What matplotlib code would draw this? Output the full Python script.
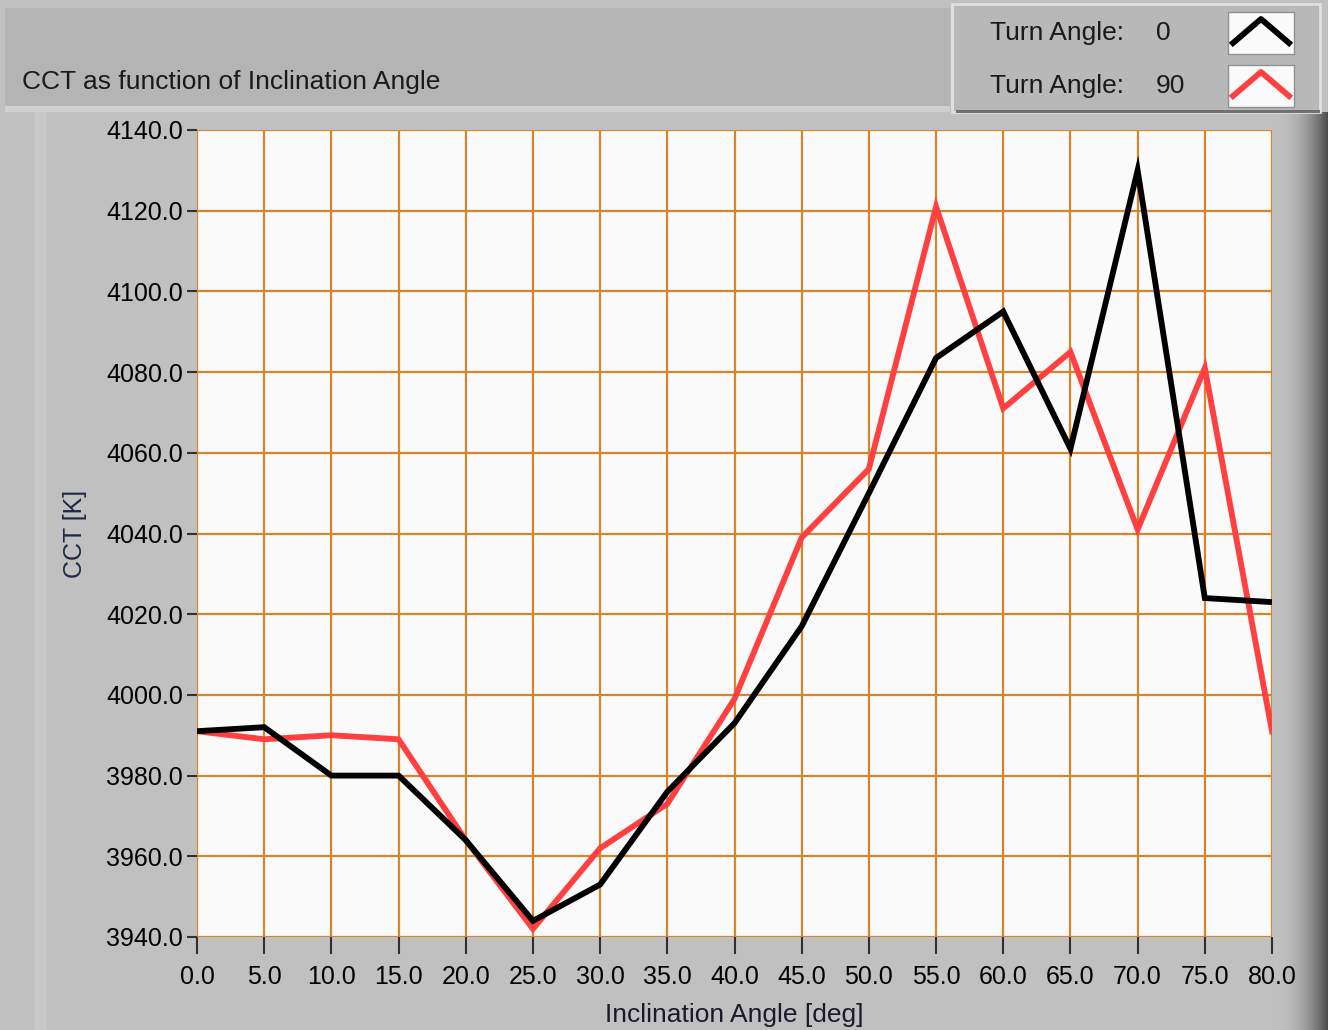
import matplotlib
matplotlib.use("Agg")
import matplotlib.pyplot as plt
from matplotlib.patches import Rectangle
import numpy as np

angles = [0, 5, 10, 15, 20, 25, 30, 35, 40, 45, 50, 55, 60, 65, 70, 75, 80]
cct_turn0 = [3991, 3992, 3980, 3980, 3964, 3944, 3953, 3976, 3993, 4017, 4050, 4083.5, 4095, 4061, 4130, 4024, 4023]
cct_turn90 = [3991, 3989, 3990, 3989, 3964, 3942, 3962, 3973, 3999, 4039, 4056, 4121, 4071, 4085, 4041, 4081, 3991]
series_labels = ["Turn Angle:", "Turn Angle:"]
series_values = ["0", "90"]
xticks = np.arange(0, 81, 5)
yticks = np.arange(3940, 4141, 20)

plt.rcParams['font.family'] = ['Liberation Sans', 'DejaVu Sans']

W, H = 1328, 1030
fig = plt.figure(figsize=(W / 100, H / 100), dpi=100)
fig.patch.set_facecolor('#c0c0c0')

def px(x, y, w, h, **kw):
    r = Rectangle((x / W, 1 - (y + h) / H), w / W, h / H, transform=fig.transFigure, **kw)
    fig.add_artist(r)
    return r

# title bar
px(5, 8, 945, 98, facecolor='#b4b4b4', edgecolor='none', zorder=0)
px(5, 106, 945, 6, facecolor='#d0d0d0', edgecolor='none', zorder=0)
# left lighter strip
px(35, 112, 12, 918, facecolor='#c8c8c8', edgecolor='none', zorder=0)
# right dark gradient
for i in range(50):
    g = 0.75 - 0.45 * (i / 49) ** 2
    px(1278 + i, 112, 1.2, 918, facecolor=(g, g, g), edgecolor='none', zorder=0)
# legend box
px(952, 4, 368, 108, facecolor='#b8b8b8', edgecolor='#e0e0e0', linewidth=2, zorder=1)
px(956, 110, 364, 3, facecolor='#707070', edgecolor='none', zorder=1)

ax = fig.add_axes([197 / W, 1 - 937 / H, (1272 - 197) / W, (937 - 130) / H])
ax.set_facecolor('#fafafa')
ax.set_xlim(0, 80)
ax.set_ylim(3940, 4140)
ax.set_xticks(xticks)
ax.set_yticks(yticks)
ax.set_xticklabels([f"{v:.1f}" for v in xticks])
ax.set_yticklabels([f"{v:.1f}" for v in yticks])
ax.grid(True, color='#d4862a', linewidth=1.6)
ax.set_axisbelow(True)
for s in ax.spines.values():
    s.set_visible(False)
ax.tick_params(axis='y', direction='out', length=7, width=1.5, color='#303030', labelsize=18, pad=3)
ax.tick_params(axis='x', direction='out', length=12, width=1.5, color='#303030', labelsize=18, pad=8)

ax.plot(angles, cct_turn90, color='#ff4040', linewidth=4.2, solid_joinstyle='miter', zorder=3)
ax.plot(angles, cct_turn0, color='#000000', linewidth=4.2, solid_joinstyle='miter', zorder=4)

ax.set_xlabel("Inclination Angle [deg]", fontsize=19, labelpad=10, color='#1a1a2a')
ax.set_ylabel("CCT [K]", fontsize=18, labelpad=14, color='#1c2a48')

fig.text(22 / W, 1 - 82 / H, "CCT as function of Inclination Angle", fontsize=19, va='center', ha='left', color='#1a1a1a')

# legend entries
colors = ['#000000', '#ff4040']
for i, (lab, val, col) in enumerate(zip(series_labels, series_values, colors)):
    yc = 33 + i * 53
    fig.text(990 / W, 1 - yc / H, lab, fontsize=19, va='center', ha='left', color='#1a1a1a')
    fig.text(1156 / W, 1 - yc / H, val, fontsize=19, va='center', ha='left', color='#1a1a1a')
    px(1228, yc - 21, 66, 42, facecolor='#fafafa', edgecolor='#909090', linewidth=1, zorder=2)
    lx = np.array([1233, 1261, 1289]) / W
    ly = 1 - np.array([yc + 10, yc - 14, yc + 10]) / H
    fig.add_artist(plt.Line2D(lx, ly, transform=fig.transFigure, color=col, linewidth=4.2, zorder=3))

fig.savefig("out.png", dpi=100, facecolor=fig.get_facecolor())
